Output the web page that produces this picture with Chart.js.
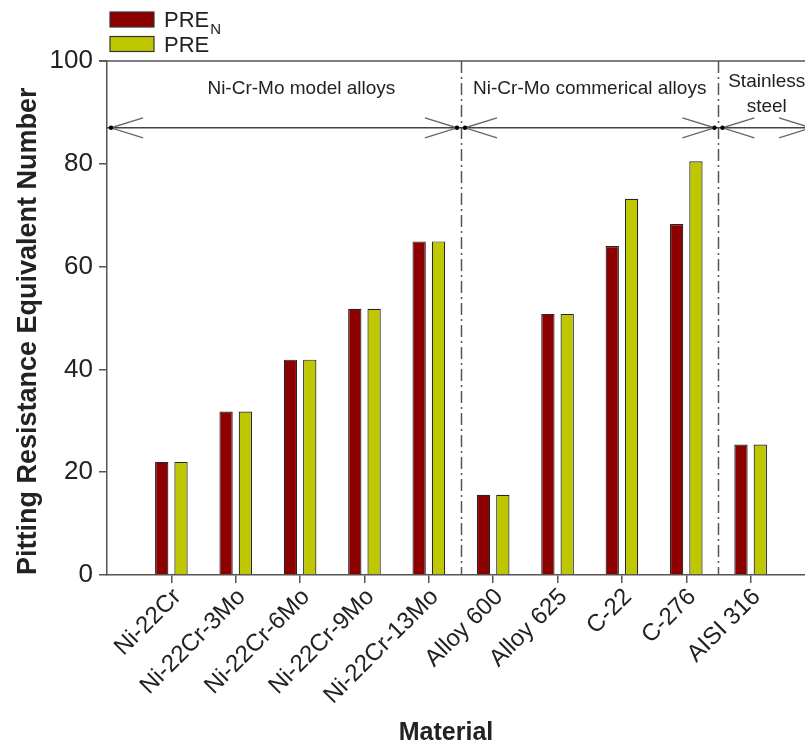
<!DOCTYPE html>
<html>
<head>
<meta charset="utf-8">
<title>Pitting Resistance Equivalent Number</title>
<script src="https://cdn.jsdelivr.net/npm/chart.js@4.4.1/dist/chart.umd.min.js"></script>
<style>
  html, body { margin: 0; padding: 0; background: #fff; overflow: hidden; }
  #wrap { width: 805px; height: 747px; overflow: hidden; }
  canvas { display: block; }
</style>
</head>
<body>
<div id="wrap"><canvas id="pren" width="830" height="747"></canvas></div>
<script>
// materials, left to right
var materials = ['Ni-22Cr', 'Ni-22Cr-3Mo', 'Ni-22Cr-6Mo', 'Ni-22Cr-9Mo', 'Ni-22Cr-13Mo',
                 'Alloy 600', 'Alloy 625', 'C-22', 'C-276', 'AISI 316'];
// PRE_N and PRE for each material
var prenValues = [22, 31.8, 41.9, 51.8, 64.9, 15.6, 50.8, 64.0, 68.3, 25.4];
var preValues  = [22, 31.8, 41.9, 51.8, 64.9, 15.6, 50.8, 73.2, 80.5, 25.4];
var seriesNames = ['PRE', 'PRE'];
var seriesSubs  = ['N', ''];
var yTicks = [0, 20, 40, 60, 80, 100];

// alloy groups: text lines and where the caption sits (category units)
var groupTexts = [['Ni-Cr-Mo model alloys'], ['Ni-Cr-Mo commerical alloys'], ['Stainless', 'steel']];
var groupTextAt = [3.02, 7.5, 10.25];
var groupBreaks = [5.5, 9.5];   // between 13Mo / Alloy 600 and C-276 / AISI 316
var spanLevel = 87;             // height of the double arrows

// one empty slot on each side so the bars sit a full step away from the frame
var labels = [''].concat(materials, ['']);
var padNull = function (arr) { return [null].concat(arr, [null]); };

var FONT = '"Liberation Sans", Arial, Helvetica, sans-serif';
var AXIS = '#555';
var TEXT = '#222';
Chart.defaults.font.family = FONT;
Chart.defaults.color = TEXT;

function drawHead(ctx, tip, yy, dir) {
  // open arrow head, dir -1 points left, +1 points right
  ctx.strokeStyle = '#666';
  ctx.lineWidth = 1.4;
  ctx.beginPath();
  ctx.moveTo(tip - dir * 32, yy - 10);
  ctx.lineTo(tip, yy);
  ctx.lineTo(tip - dir * 32, yy + 10);
  ctx.stroke();
  ctx.fillStyle = '#000';
  ctx.beginPath();
  ctx.arc(tip, yy, 2.2, 0, Math.PI * 2);
  ctx.fill();
}

var groupOverlay = {
  id: 'groupOverlay',
  afterDraw: function (chart) {
    var ctx = chart.ctx, area = chart.chartArea;
    var xs = chart.scales.x, ys = chart.scales.y;
    ctx.save();

    // top frame
    ctx.strokeStyle = AXIS;
    ctx.lineWidth = 1.5;
    ctx.beginPath();
    ctx.moveTo(area.left - 8, area.top);
    ctx.lineTo(area.right, area.top);
    ctx.stroke();

    // dash-dot separators
    ctx.setLineDash([12, 4, 2, 4]);
    ctx.lineWidth = 1.5;
    groupBreaks.forEach(function (b) {
      var px = Math.round(xs.getPixelForValue(b)) + 0.5;
      ctx.beginPath();
      ctx.moveTo(px, area.top);
      ctx.lineTo(px, area.bottom);
      ctx.stroke();
    });
    ctx.setLineDash([]);

    // double arrows over each group
    var yy = ys.getPixelForValue(spanLevel);
    ctx.strokeStyle = '#444';
    ctx.lineWidth = 1.5;
    ctx.beginPath();
    ctx.moveTo(area.left, yy);
    ctx.lineTo(area.right, yy);
    ctx.stroke();
    var edges = [0].concat(groupBreaks, [labels.length - 1]);
    for (var i = 0; i < edges.length - 1; i++) {
      var a = xs.getPixelForValue(edges[i]) + 4;
      var b = xs.getPixelForValue(edges[i + 1]) - 4;
      drawHead(ctx, a, yy, -1);
      drawHead(ctx, b, yy, 1);
    }

    // group captions
    ctx.fillStyle = TEXT;
    ctx.font = '19px ' + FONT;
    ctx.textAlign = 'center';
    ctx.textBaseline = 'middle';
    groupTexts.forEach(function (lines, k) {
      var cx = xs.getPixelForValue(groupTextAt[k]);
      var y0 = lines.length > 1 ? area.top + 21 : area.top + 28;
      lines.forEach(function (t, j) { ctx.fillText(t, cx, y0 + j * 25); });
    });

    // legend with subscript
    ctx.textAlign = 'left';
    ctx.textBaseline = 'alphabetic';
    chart.data.datasets.forEach(function (ds, k) {
      var top = 12 + k * 24.5;
      ctx.fillStyle = ds.backgroundColor;
      ctx.fillRect(110, top, 44, 15);
      ctx.strokeStyle = '#333';
      ctx.lineWidth = 1.2;
      ctx.strokeRect(110, top, 44, 15);
      ctx.fillStyle = TEXT;
      ctx.font = '22px ' + FONT;
      var base = top + 15;
      ctx.fillText(seriesNames[k], 164, base);
      if (seriesSubs[k]) {
        var w = ctx.measureText(seriesNames[k]).width;
        ctx.font = '15px ' + FONT;
        ctx.fillText(seriesSubs[k], 164 + w + 1, base + 7);
      }
    });

    // x axis title
    ctx.font = 'bold 25px ' + FONT;
    ctx.textAlign = 'center';
    ctx.textBaseline = 'middle';
    ctx.fillStyle = TEXT;
    ctx.fillText('Material', 446, 733);

    ctx.restore();
  }
};

new Chart(document.getElementById('pren'), {
  type: 'bar',
  data: {
    labels: labels,
    datasets: [
      { label: 'PREN', data: padNull(prenValues), backgroundColor: '#8c0000',
        borderColor: '#262626', borderWidth: 1.2 },
      { label: 'PRE', data: padNull(preValues), backgroundColor: '#bfc700',
        borderColor: '#262626', borderWidth: 1.2 }
    ]
  },
  options: {
    responsive: false,
    animation: false,
    layout: { padding: { left: 0, top: 61, right: 15, bottom: 0 } },
    datasets: { bar: { categoryPercentage: 0.6, barPercentage: 0.69 } },
    plugins: { legend: { display: false }, tooltip: { enabled: false } },
    scales: {
      x: {
        offset: false,
        grid: {
          offset: false,
          drawOnChartArea: false,
          tickLength: 8,
          lineWidth: 1.5,
          color: function (c) { return (c.index === 0 || c.index === labels.length - 1) ? 'rgba(0,0,0,0)' : AXIS; }
        },
        border: { color: AXIS, width: 1.5 },
        ticks: { autoSkip: false, minRotation: 45, maxRotation: 45, padding: 0, labelOffset: 6,
                 font: { size: 24 }, color: TEXT },
        afterFit: function (s) { s.height = 172; s.paddingLeft = 0; s.paddingRight = 0; }
      },
      y: {
        min: 0, max: 100,
        afterBuildTicks: function (s) { s.ticks = yTicks.map(function (v) { return { value: v }; }); },
        grid: { drawOnChartArea: false, tickLength: 8, color: AXIS, lineWidth: 1.5 },
        border: { color: AXIS, width: 1.5 },
        ticks: { padding: 6, font: { size: 26 }, color: TEXT },
        title: { display: true, text: 'Pitting Resistance Equivalent Number', align: 'start',
                 font: { size: 27, weight: 'bold' }, color: TEXT, padding: { top: 12, bottom: 0 } },
        afterFit: function (s) { s.width = 107; s.paddingTop = 0; s.paddingBottom = 0; }
      }
    }
  },
  plugins: [groupOverlay]
});
</script>
</body>
</html>
